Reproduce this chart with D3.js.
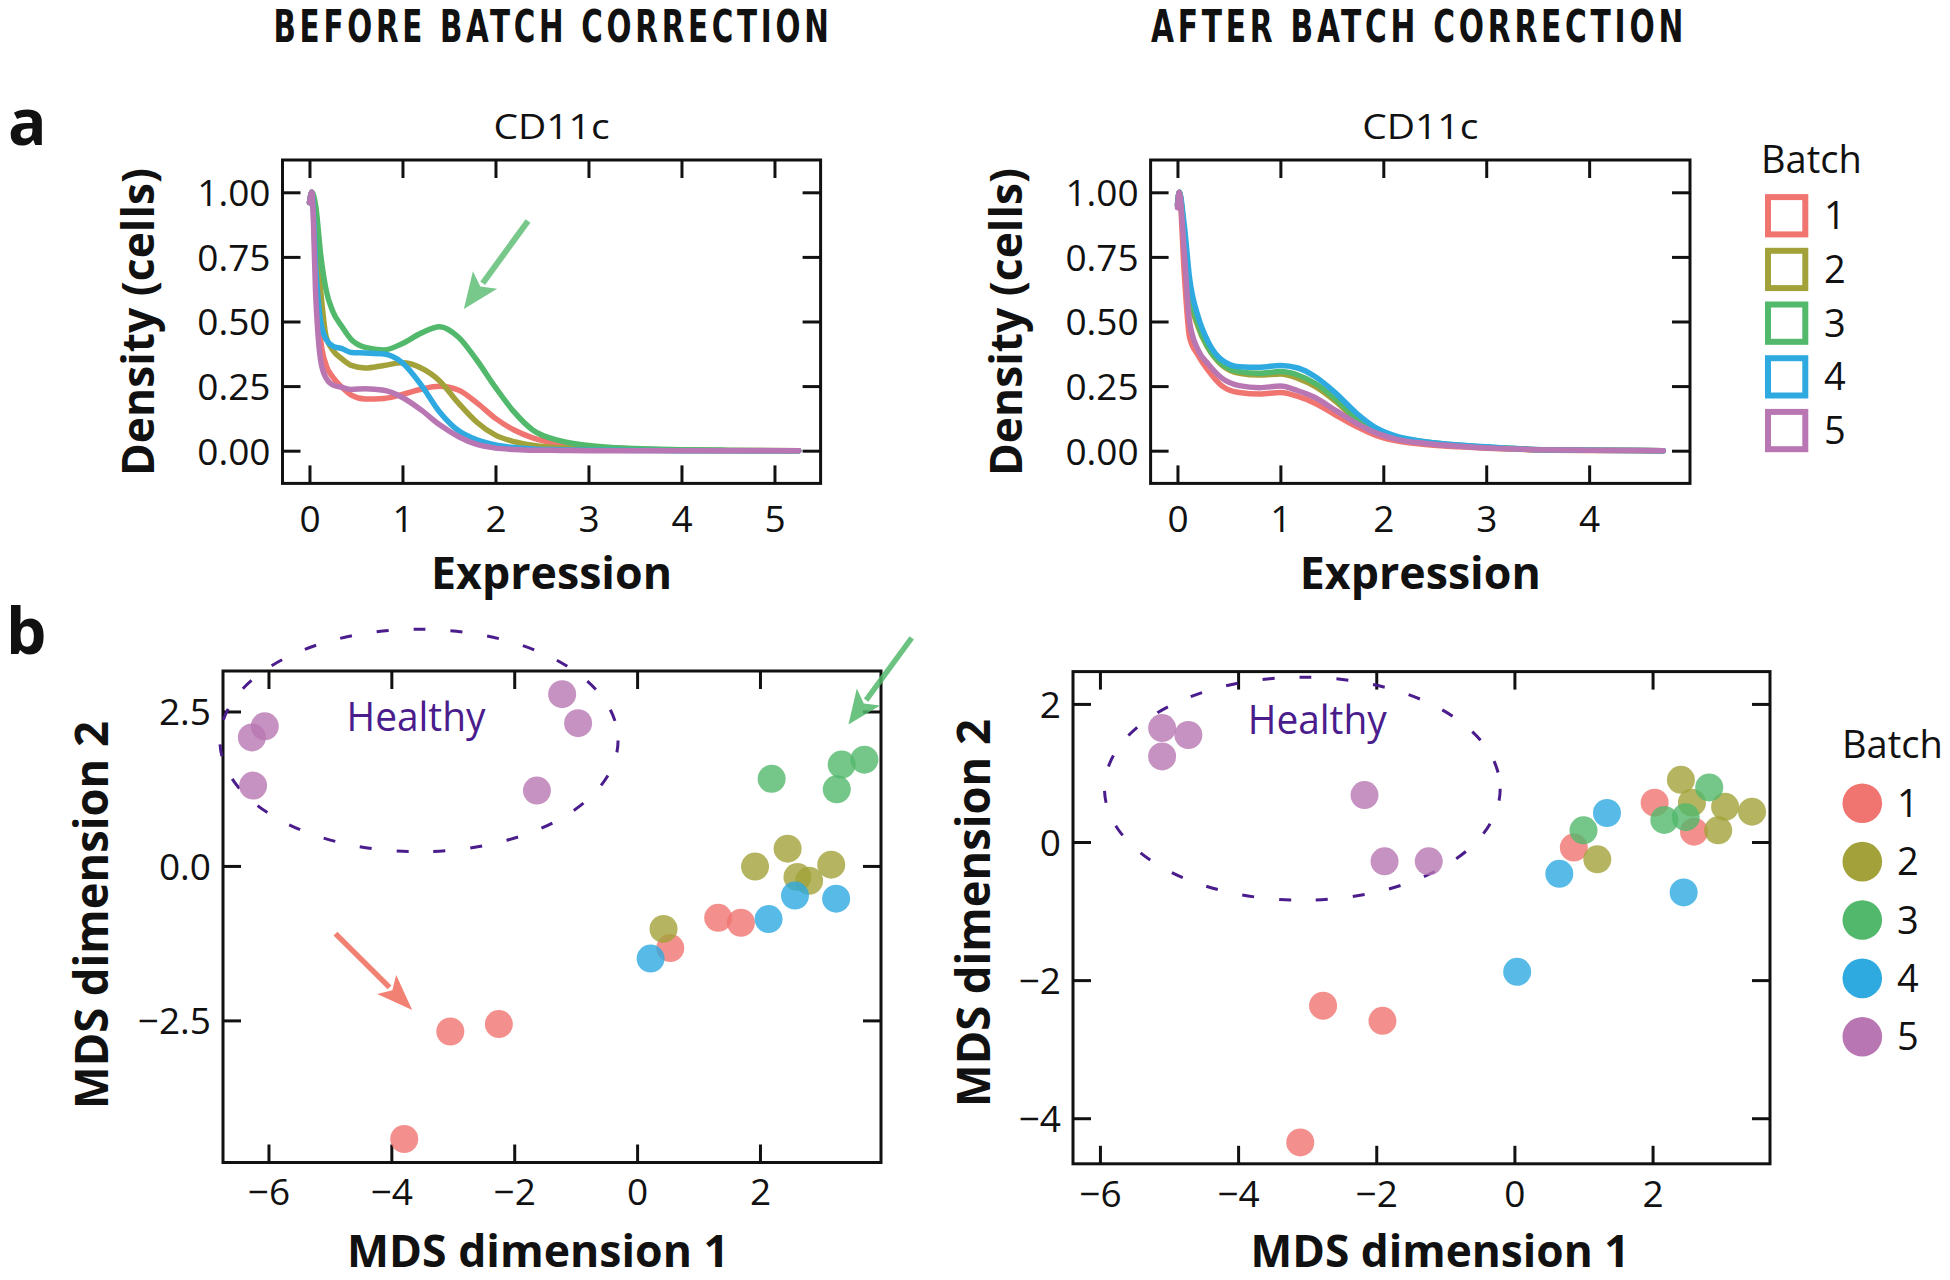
<!DOCTYPE html>
<html><head><meta charset="utf-8">
<script src="https://cdn.jsdelivr.net/npm/d3@7"></script>
<style>
body{margin:0;background:#fff;}
svg text{font-family:"Open Sans","Noto Sans",sans-serif;fill:#111;}
</style></head><body>
<svg id="chart" width="1950" height="1280"></svg>
<script>
// ---------------- data ----------------
const batches = ["1", "2", "3", "4", "5"];
const batchColors = ["#F07470", "#A3A23A", "#52B86B", "#2EAAE1", "#B877B3"];

// Panel a, before correction: density of CD11c expression per batch
const beforeX = [0, 0.025, 0.07, 0.12, 0.18, 0.25, 0.35, 0.45, 0.6, 0.8, 1.0, 1.2, 1.4, 1.6, 1.8, 2.0, 2.2, 2.4, 2.7, 3.0, 3.5, 4.0, 4.5, 5.26];
const before1 = [0.96, 1.0, 0.74, 0.43, 0.33, 0.285, 0.245, 0.215, 0.20, 0.202, 0.218, 0.238, 0.249, 0.235, 0.185, 0.125, 0.08, 0.05, 0.027, 0.016, 0.007, 0.003, 0.001, 0];
const before2 = [0.96, 1.0, 0.82, 0.62, 0.44, 0.39, 0.355, 0.33, 0.32, 0.33, 0.34, 0.32, 0.27, 0.185, 0.11, 0.06, 0.035, 0.021, 0.011, 0.007, 0.003, 0.001, 0, 0];
const before3 = [0.96, 1.0, 0.94, 0.76, 0.62, 0.54, 0.48, 0.43, 0.40, 0.39, 0.415, 0.455, 0.48, 0.44, 0.35, 0.245, 0.15, 0.08, 0.038, 0.02, 0.008, 0.004, 0.002, 0];
const before4 = [0.96, 1.0, 0.70, 0.50, 0.43, 0.405, 0.395, 0.38, 0.378, 0.374, 0.34, 0.255, 0.15, 0.078, 0.042, 0.022, 0.012, 0.007, 0.004, 0.002, 0.001, 0, 0, 0];
const before5 = [0.96, 1.0, 0.58, 0.35, 0.28, 0.255, 0.245, 0.237, 0.24, 0.234, 0.206, 0.158, 0.10, 0.055, 0.024, 0.01, 0.005, 0.002, 0.001, 0, 0, 0, 0, 0];

// Panel a, after correction
const afterX = [0, 0.017, 0.067, 0.117, 0.2, 0.3, 0.435, 0.6, 0.8, 1.0, 1.17, 1.34, 1.54, 1.74, 1.94, 2.14, 2.41, 2.74, 3.08, 3.41, 4.0, 4.72];
const after1 = [0.95, 1.0, 0.68, 0.44, 0.37, 0.31, 0.25, 0.225, 0.219, 0.225, 0.21, 0.183, 0.137, 0.093, 0.057, 0.037, 0.024, 0.015, 0.008, 0.004, 0.001, 0];
const after2 = [0.95, 1.0, 0.83, 0.61, 0.48, 0.396, 0.33, 0.30, 0.293, 0.297, 0.28, 0.248, 0.19, 0.119, 0.074, 0.048, 0.032, 0.019, 0.01, 0.005, 0.002, 0];
const after3 = [0.95, 1.0, 0.84, 0.635, 0.49, 0.40, 0.335, 0.306, 0.30, 0.306, 0.293, 0.26, 0.199, 0.125, 0.077, 0.05, 0.034, 0.021, 0.012, 0.006, 0.002, 0];
const after4 = [0.95, 1.0, 0.87, 0.67, 0.52, 0.42, 0.35, 0.325, 0.323, 0.33, 0.32, 0.286, 0.222, 0.145, 0.086, 0.054, 0.035, 0.022, 0.013, 0.006, 0.002, 0];
const after5 = [0.94, 1.0, 0.76, 0.50, 0.39, 0.335, 0.28, 0.252, 0.244, 0.25, 0.232, 0.205, 0.155, 0.106, 0.067, 0.043, 0.028, 0.017, 0.009, 0.005, 0.002, 0];

const densityYTicks = [0, 0.25, 0.5, 0.75, 1.0];
const beforeXTicks = [0, 1, 2, 3, 4, 5];
const afterXTicks = [0, 1, 2, 3, 4];

// Panel b, MDS before correction
const mdsBeforeBatch = ["1","1","1","1","1","1", "2","2","2","2","2","2", "3","3","3","3", "4","4","4","4", "5","5","5","5","5","5"];
const mdsBeforeX = [1.32, 1.69, 0.54, -3.04, -2.25, -3.79,  2.45, 1.92, 3.16, 2.61, 2.80, 0.43,  2.19, 3.33, 3.70, 3.25,  2.57, 3.24, 2.14, 0.22,  -1.22, -0.96, -6.06, -6.27, -6.25, -1.63];
const mdsBeforeY = [-0.84, -0.92, -1.33, -2.68, -2.56, -4.42,  0.28, -0.01, 0.02, -0.18, -0.24, -1.02,  1.41, 1.64, 1.72, 1.24,  -0.48, -0.53, -0.86, -1.50,  2.78, 2.31, 2.26, 2.08, 1.30, 1.22];

// Panel b, MDS after correction
const mdsAfterBatch = ["1","1","1","1","1","1", "2","2","2","2","2","2", "3","3","3","3", "4","4","4","4", "5","5","5","5","5","5"];
const mdsAfterX = [2.03, 2.60, 0.86, -2.77, -1.91, -3.10,  2.41, 2.57, 3.05, 3.44, 2.95, 1.20,  2.82, 2.17, 2.48, 1.00,  1.34, 0.65, 2.45, 0.04,  -5.10, -4.72, -5.10, -2.17, -1.88, -1.24];
const mdsAfterY = [0.57, 0.15, -0.08, -2.37, -2.59, -4.35,  0.90, 0.57, 0.51, 0.44, 0.17, -0.25,  0.79, 0.32, 0.36, 0.17,  0.42, -0.46, -0.73, -1.88,  1.65, 1.55, 1.24, 0.68, -0.28, -0.28];

const mdsBeforeXTicks = [-6, -4, -2, 0, 2];
const mdsBeforeYTicks = [-2.5, 0, 2.5];
const mdsAfterXTicks = [-6, -4, -2, 0, 2];
const mdsAfterYTicks = [-4, -2, 0, 2];

// "Healthy" ellipse annotations (centre x, centre y, radius x, radius y) in data units
const healthyBefore = [-3.55, 2.03, 3.24, 1.80];
const healthyAfter = [-3.07, 0.772, 2.864, 1.615];

// ---------------- drawing ----------------
const svg = d3.select("#chart");
svg.append("rect").attr("width", 1950).attr("height", 1280).attr("fill", "#fff");

const TICK = 18;
function frame(cfg) {
  const [x0, y0, x1, y1] = cfg.box;
  const x = d3.scaleLinear().domain(cfg.xDomain).range([x0, x1]);
  const y = d3.scaleLinear().domain(cfg.yDomain).range([y1, y0]);
  const g = svg.append("g");
  const style = sel => {
    sel.select(".domain").remove();
    sel.selectAll(".tick line").attr("stroke", "#111").attr("stroke-width", 3);
    sel.selectAll(".tick text").style("font-size", "37px").attr("fill", "#111")
      .style("font-family", '"Open Sans","Noto Sans",sans-serif');
  };
  g.append("g").attr("transform", `translate(${x0},0)`)
    .call(d3.axisLeft(y).tickValues(cfg.yTicks).tickFormat(d3.format(cfg.yFmt)).tickSizeInner(-TICK).tickSizeOuter(0).tickPadding(cfg.yPad))
    .call(style).call(s => s.selectAll(".tick text").attr("dy", "0.36em"));
  g.append("g").attr("transform", `translate(${x1},0)`)
    .call(d3.axisRight(y).tickValues(cfg.yTicks).tickFormat(() => "").tickSizeInner(-TICK).tickSizeOuter(0))
    .call(style);
  g.append("g").attr("transform", `translate(0,${y1})`)
    .call(d3.axisBottom(x).tickValues(cfg.xTicks).tickFormat(d3.format(cfg.xFmt)).tickSizeInner(-TICK).tickSizeOuter(0))
    .call(style).call(s => s.selectAll(".tick text").attr("y", cfg.xLabOff).attr("dy", 0));
  g.append("g").attr("transform", `translate(0,${y0})`)
    .call(d3.axisTop(x).tickValues(cfg.xTicks).tickFormat(() => "").tickSizeInner(-TICK).tickSizeOuter(0))
    .call(style);
  g.append("rect").attr("x", x0).attr("y", y0).attr("width", x1 - x0).attr("height", y1 - y0)
    .attr("fill", "none").attr("stroke", "#111").attr("stroke-width", 3);
  return { x, y, g };
}

function text(str, x, y, o = {}) {
  const t = svg.append("text").attr("x", x).attr("y", y).text(str)
    .style("font-size", (o.size || 37) + "px")
    .style("font-weight", o.weight || 400)
    .attr("text-anchor", o.anchor || "start");
  if (o.family) t.style("font-family", o.family);
  if (o.fill) t.style("fill", o.fill);
  if (o.rotate) t.attr("transform", `rotate(-90,${x},${y})`);
  if (o.ls) t.style("letter-spacing", o.ls);
  if (o.len) t.attr("textLength", o.len).attr("lengthAdjust", o.adjust || "spacingAndGlyphs");
  return t;
}

function arrow(g, x1, y1, x2, y2, color, headLen, headHalf, width) {
  const dx = x2 - x1, dy = y2 - y1, L = Math.hypot(dx, dy);
  const ux = dx / L, uy = dy / L;
  const bx = x2 - ux * headLen, by = y2 - uy * headLen;
  g.append("line").attr("x1", x1).attr("y1", y1).attr("x2", bx + ux * 4).attr("y2", by + uy * 4)
    .attr("stroke", color).attr("stroke-width", width);
  g.append("path").attr("d", `M${x2},${y2}L${bx - uy * headHalf},${by + ux * headHalf}L${bx + ux * 8},${by + uy * 8}L${bx + uy * headHalf},${by - ux * headHalf}Z`)
    .attr("fill", color);
}

// ---- headings ----
const headFont = '"Liberation Sans Narrow","DejaVu Sans Condensed","Open Sans",sans-serif';
text("BEFORE BATCH CORRECTION", 273.5, 42, { size: 44, weight: 600, family: headFont, ls: "5px", len: 559, adjust: "spacingAndGlyphs" });
text("AFTER BATCH CORRECTION", 1151, 42, { size: 44, weight: 600, family: headFont, ls: "5px", len: 536, adjust: "spacingAndGlyphs" });
text("a", 8, 145, { size: 64, weight: 700 });
text("b", 6, 654, { size: 64, weight: 700 });

// ---- density panels ----
function densityPanel(box, xDomain, xTicks, xs, series, ylabX) {
  const f = frame({ box, xDomain, yDomain: [-0.1266, 1.125], xTicks, yTicks: densityYTicks,
    xFmt: "d", yFmt: ".2f", yPad: 12, xLabOff: 48.6 });
  const line = d3.line().x((d, i) => f.x(xs[i])).y(d => f.y(d)).curve(d3.curveMonotoneX);
  series.forEach((ys, k) => {
    f.g.append("path").attr("d", line(ys)).attr("fill", "none")
      .attr("stroke", batchColors[k]).attr("stroke-width", 5.5)
      .attr("stroke-linecap", "round").attr("stroke-linejoin", "round");
  });
  const cx = (box[0] + box[2]) / 2;
  text("CD11c", cx, 138.5, { size: 35, anchor: "middle", len: 116 });
  text("Expression", cx, 589, { size: 45, weight: 700, anchor: "middle", len: 241 });
  text("Density (cells)", ylabX, 322, { size: 45, weight: 700, anchor: "middle", rotate: true, len: 308 });
  return f;
}

const fa = densityPanel([282.5, 160, 820.6, 483.4], [-0.29, 5.496], beforeXTicks, beforeX,
  [before1, before2, before3, before4, before5], 154);
// green arrow (batch 3 outlier peak)
arrow(fa.g, fa.x(2.35), fa.y(0.889), fa.x(1.66), fa.y(0.548), "rgba(82,184,107,0.78)", 36, 15, 6);

const fb = densityPanel([1150.6, 160, 1690, 483.4], [-0.261, 4.98], afterXTicks, afterX,
  [after1, after2, after3, after4, after5], 1022);

// legend a
text("Batch", 1761, 173.3, { size: 38 });
batches.forEach((b, i) => {
  const cy = 215.7 + i * 53.7;
  svg.append("rect").attr("x", 1768).attr("y", cy - 18.6).attr("width", 37.3).attr("height", 37.3)
    .attr("fill", "#fff").attr("stroke", batchColors[i]).attr("stroke-width", 6);
  text(b, 1824, cy + 13.6, { size: 38 });
});

// ---- MDS panels ----
function mdsPanel(box, xDomain, yDomain, xTicks, yTicks, yFmt, xs, ys, bs, ell, healthyPos) {
  const f = frame({ box, xDomain, yDomain, xTicks, yTicks, xFmt: "d", yFmt, yPad: 12, xLabOff: 42.8 });
  f.g.append("ellipse").attr("cx", f.x(ell[0])).attr("cy", f.y(ell[1]))
    .attr("rx", f.x(ell[0] + ell[2]) - f.x(ell[0])).attr("ry", f.y(ell[1]) - f.y(ell[1] + ell[3]))
    .attr("fill", "none").attr("stroke", "#4A1C8C").attr("stroke-width", 3).attr("stroke-dasharray", "12 25");
  xs.forEach((xv, i) => {
    f.g.append("circle").attr("cx", f.x(xv)).attr("cy", f.y(ys[i])).attr("r", 14)
      .attr("fill", batchColors[batches.indexOf(bs[i])]).attr("fill-opacity", 0.8);
  });
  const t = text("Healthy", f.x(healthyPos[0]), f.y(healthyPos[1]), { size: 40, len: 139 });
  t.style("fill", "#4A1C8C");
  return f;
}

const fc = mdsPanel([223, 671, 881, 1162.5], [-6.74, 3.97], [-4.80, 3.155], mdsBeforeXTicks, mdsBeforeYTicks, ".1f",
  mdsBeforeX, mdsBeforeY, mdsBeforeBatch, healthyBefore, [-4.73, 2.19]);
arrow(fc.g, fc.x(4.47), fc.y(3.69), fc.x(3.44), fc.y(2.29), "rgba(82,184,107,0.85)", 34, 14.5, 5.5);
arrow(fc.g, fc.x(-4.91), fc.y(-1.095), fc.x(-3.66), fc.y(-2.33), "rgba(240,116,100,0.9)", 36, 13.5, 5.5);
text("MDS dimension 1", 538, 1267, { size: 44, weight: 700, anchor: "middle", len: 382 });
text("MDS dimension 2", 108, 915, { size: 46, weight: 700, anchor: "middle", rotate: true, len: 388 });

const fd = mdsPanel([1073, 671.6, 1770, 1163.8], [-6.39, 3.70], [-4.66, 2.468], mdsAfterXTicks, mdsAfterYTicks, "d",
  mdsAfterX, mdsAfterY, mdsAfterBatch, healthyAfter, [-3.86, 1.56]);
text("MDS dimension 1", 1440, 1267, { size: 44, weight: 700, anchor: "middle", len: 379 });
text("MDS dimension 2", 990, 913, { size: 46, weight: 700, anchor: "middle", rotate: true, len: 388 });

// legend b
text("Batch", 1842, 758.3, { size: 38 });
batches.forEach((b, i) => {
  const cy = 803.3 + i * 58.35;
  svg.append("circle").attr("cx", 1862.3).attr("cy", cy).attr("r", 19.8).attr("fill", batchColors[i]);
  text(b, 1897, cy + 13.6, { size: 38 });
});
</script>
</body></html>
